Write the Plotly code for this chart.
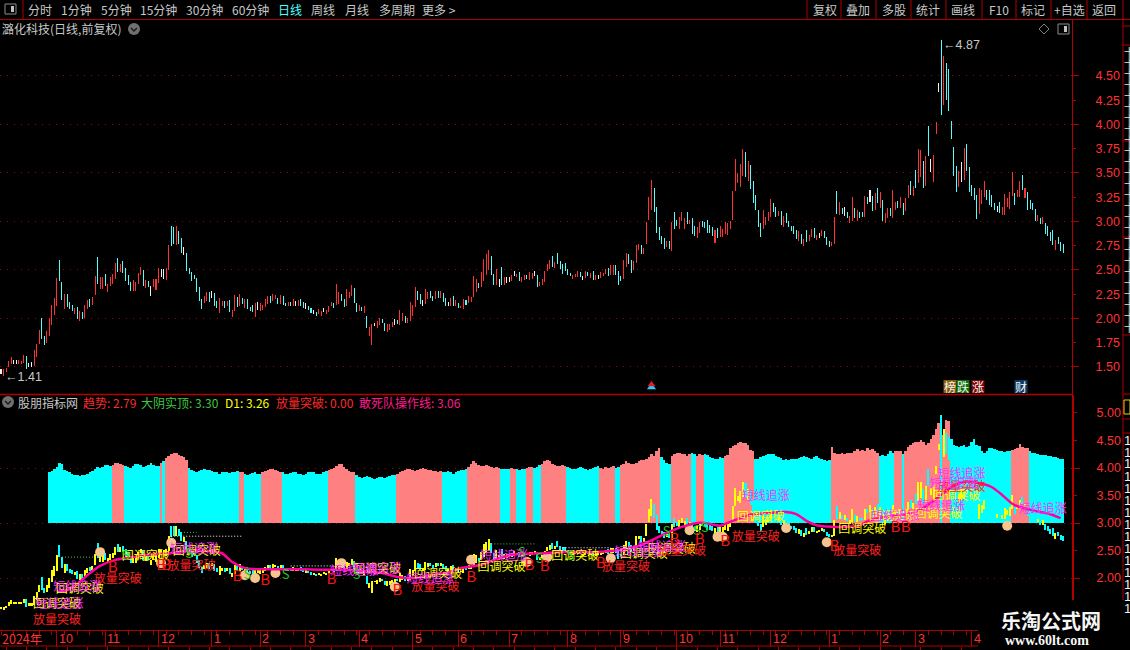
import plotly.graph_objects as go

# Candle ranges, ten bars per row
bar_lows = [
    1.43, 1.41, 1.45, 1.50, 1.53, 1.53, 1.53, 1.53, 1.53, 1.54,
    1.48, 1.50, 1.50, 1.51, 1.60, 1.74, 1.79, 1.73, 1.75, 1.82,
    1.93, 2.04, 2.13, 2.39, 2.19, 2.10, 2.12, 2.10, 2.08, 2.05,
    1.99, 1.97, 1.99, 2.00, 2.10, 2.12, 2.14, 2.24, 2.36, 2.30,
    2.30, 2.33, 2.27, 2.33, 2.36, 2.41, 2.48, 2.48, 2.47, 2.39,
    2.35, 2.28, 2.28, 2.28, 2.36, 2.45, 2.33, 2.31, 2.32, 2.23,
    2.32, 2.29, 2.37, 2.43, 2.41, 2.40, 2.50, 2.75, 2.77, 2.76,
    2.77, 2.67, 2.65, 2.49, 2.46, 2.39, 2.41, 2.27, 2.18, 2.10,
    2.16, 2.18, 2.17, 2.21, 2.13, 2.11, 2.06, 2.13, 2.11, 2.13,
    2.07, 2.02, 2.08, 2.12, 2.13, 2.15, 2.11, 2.10, 2.08, 2.07,
    2.02, 2.09, 2.08, 2.09, 2.12, 2.15, 2.16, 2.18, 2.20, 2.15,
    2.15, 2.14, 2.13, 2.13, 2.13, 2.13, 2.13, 2.13, 2.13, 2.11,
    2.10, 2.09, 2.06, 2.05, 2.03, 2.05, 2.03, 2.07, 2.05, 2.07,
    2.13, 2.11, 2.14, 2.15, 2.18, 2.12, 2.13, 2.21, 2.23, 2.16,
    2.07, 2.08, 2.08, 2.06, 1.90, 1.82, 1.73, 1.92, 1.90, 1.93,
    1.95, 1.87, 1.86, 1.88, 1.91, 1.93, 1.94, 1.93, 1.97, 1.95,
    1.95, 1.97, 2.03, 2.12, 2.19, 2.15, 2.13, 2.15, 2.20, 2.21,
    2.18, 2.20, 2.21, 2.21, 2.17, 2.13, 2.13, 2.13, 2.13, 2.13,
    2.11, 2.11, 2.10, 2.14, 2.16, 2.17, 2.22, 2.27, 2.31, 2.32,
    2.39, 2.45, 2.50, 2.45, 2.34, 2.35, 2.32, 2.35, 2.34, 2.37,
    2.38, 2.39, 2.44, 2.43, 2.39, 2.38, 2.40, 2.41, 2.40, 2.41,
    2.44, 2.32, 2.33, 2.35, 2.38, 2.49, 2.51, 2.53, 2.52, 2.56,
    2.51, 2.46, 2.49, 2.45, 2.44, 2.41, 2.43, 2.43, 2.43, 2.40,
    2.42, 2.44, 2.42, 2.40, 2.40, 2.41, 2.42, 2.44, 2.46, 2.44,
    2.45, 2.45, 2.45, 2.35, 2.39, 2.41, 2.53, 2.56, 2.47, 2.50,
    2.57, 2.71, 2.66, 2.66, 2.77, 3.02, 3.12, 3.10, 2.88, 2.81,
    2.77, 2.72, 2.74, 2.72, 2.70, 2.92, 2.95, 2.92, 3.00, 2.92,
    2.97, 2.97, 2.87, 2.85, 2.83, 2.88, 2.94, 2.93, 2.88, 2.88,
    2.85, 2.78, 2.83, 2.84, 2.84, 2.87, 2.86, 2.92, 3.02, 3.31,
    3.40, 3.36, 3.47, 3.46, 3.42, 3.33, 3.19, 3.12, 2.94, 2.84,
    2.92, 2.96, 3.01, 3.05, 3.10, 3.05, 3.06, 2.96, 2.94, 2.98,
    2.94, 2.90, 2.87, 2.82, 2.80, 2.77, 2.75, 2.79, 2.80, 2.84,
    2.83, 2.81, 2.83, 2.85, 2.83, 2.76, 2.74, 2.75, 2.77, 3.08,
    3.07, 3.08, 3.06, 3.04, 2.98, 3.01, 3.04, 3.01, 3.04, 3.05,
    3.05, 3.18, 3.20, 3.11, 3.12, 3.19, 3.14, 3.00, 2.98, 3.04,
    3.06, 3.04, 3.12, 3.14, 3.14, 3.07, 3.11, 3.24, 3.27, 3.26,
    3.35, 3.40, 3.46, 3.34, 3.37, 3.68, 3.51, 3.41, 3.90, 4.33,
    4.10, 4.20, 4.25, 4.14, 3.85, 3.47, 3.30, 3.36, 3.41, 3.43,
    3.52, 3.30, 3.26, 3.22, 3.03, 3.08, 3.18, 3.25, 3.22, 3.17,
    3.15, 3.12, 3.10, 3.09, 3.07, 3.07, 3.15, 3.13, 3.26, 3.17,
    3.25, 3.25, 3.32, 3.24, 3.12, 3.13, 3.12, 3.01, 3.01, 2.97,
    2.97, 2.87, 2.85, 2.80, 2.76, 2.71, 2.77, 2.70, 2.68,
]
bar_highs = [
    1.48, 1.48, 1.49, 1.56, 1.60, 1.57, 1.57, 1.57, 1.56, 1.62,
    1.61, 1.54, 1.55, 1.68, 1.74, 1.88, 2.01, 1.82, 1.87, 2.00,
    2.14, 2.21, 2.42, 2.60, 2.38, 2.25, 2.25, 2.17, 2.14, 2.11,
    2.12, 2.08, 2.07, 2.14, 2.19, 2.20, 2.22, 2.44, 2.63, 2.43,
    2.43, 2.46, 2.36, 2.43, 2.46, 2.57, 2.62, 2.56, 2.59, 2.52,
    2.45, 2.38, 2.40, 2.38, 2.47, 2.53, 2.50, 2.40, 2.39, 2.33,
    2.41, 2.41, 2.52, 2.51, 2.51, 2.52, 2.76, 2.95, 2.94, 2.95,
    2.90, 2.83, 2.74, 2.68, 2.52, 2.48, 2.45, 2.42, 2.32, 2.20,
    2.23, 2.27, 2.27, 2.28, 2.26, 2.18, 2.21, 2.18, 2.18, 2.18,
    2.19, 2.09, 2.24, 2.22, 2.25, 2.21, 2.20, 2.20, 2.12, 2.14,
    2.16, 2.17, 2.16, 2.14, 2.20, 2.23, 2.23, 2.25, 2.24, 2.21,
    2.24, 2.23, 2.16, 2.17, 2.17, 2.20, 2.18, 2.19, 2.20, 2.17,
    2.16, 2.13, 2.11, 2.09, 2.07, 2.10, 2.08, 2.11, 2.09, 2.13,
    2.17, 2.16, 2.36, 2.27, 2.25, 2.20, 2.30, 2.27, 2.34, 2.31,
    2.16, 2.14, 2.12, 2.13, 2.03, 1.91, 1.94, 1.95, 1.97, 2.00,
    1.99, 1.95, 1.94, 1.94, 1.96, 1.99, 1.98, 2.09, 2.06, 2.03,
    2.00, 2.17, 2.14, 2.32, 2.28, 2.25, 2.19, 2.30, 2.27, 2.28,
    2.23, 2.28, 2.28, 2.28, 2.26, 2.21, 2.17, 2.21, 2.23, 2.19,
    2.16, 2.13, 2.20, 2.19, 2.23, 2.22, 2.44, 2.41, 2.37, 2.48,
    2.61, 2.66, 2.71, 2.64, 2.46, 2.51, 2.41, 2.53, 2.43, 2.43,
    2.43, 2.45, 2.49, 2.46, 2.48, 2.43, 2.45, 2.45, 2.48, 2.47,
    2.49, 2.45, 2.38, 2.41, 2.49, 2.56, 2.60, 2.64, 2.58, 2.68,
    2.59, 2.56, 2.57, 2.51, 2.47, 2.45, 2.46, 2.49, 2.48, 2.44,
    2.49, 2.48, 2.47, 2.49, 2.45, 2.45, 2.48, 2.47, 2.51, 2.52,
    2.55, 2.55, 2.55, 2.49, 2.44, 2.60, 2.67, 2.66, 2.60, 2.59,
    2.76, 2.77, 2.76, 2.73, 2.99, 3.25, 3.43, 3.34, 3.15, 2.94,
    2.85, 2.83, 2.80, 2.80, 2.99, 3.10, 3.02, 3.05, 3.10, 3.04,
    3.10, 3.02, 3.04, 2.95, 2.94, 2.99, 3.00, 2.99, 3.02, 2.96,
    2.94, 2.91, 2.93, 2.95, 2.92, 2.99, 2.98, 3.01, 3.31, 3.64,
    3.50, 3.59, 3.75, 3.72, 3.62, 3.58, 3.42, 3.27, 3.12, 2.98,
    3.12, 3.05, 3.10, 3.23, 3.19, 3.15, 3.11, 3.11, 3.06, 3.09,
    3.01, 2.95, 2.95, 2.91, 2.90, 2.87, 2.82, 2.91, 2.86, 2.92,
    2.93, 2.86, 2.88, 2.91, 2.90, 2.84, 2.80, 2.79, 3.05, 3.31,
    3.20, 3.14, 3.15, 3.10, 3.06, 3.25, 3.14, 3.12, 3.10, 3.10,
    3.26, 3.25, 3.32, 3.26, 3.29, 3.34, 3.30, 3.22, 3.09, 3.14,
    3.14, 3.32, 3.20, 3.21, 3.25, 3.19, 3.24, 3.38, 3.42, 3.37,
    3.53, 3.75, 3.74, 3.62, 3.67, 3.98, 3.64, 3.69, 4.03, 4.43,
    4.87, 4.71, 4.63, 4.57, 4.04, 3.77, 3.57, 3.52, 3.61, 3.76,
    3.80, 3.56, 3.38, 3.35, 3.27, 3.34, 3.32, 3.42, 3.32, 3.32,
    3.27, 3.19, 3.16, 3.20, 3.15, 3.28, 3.24, 3.30, 3.51, 3.29,
    3.32, 3.42, 3.48, 3.34, 3.30, 3.22, 3.19, 3.13, 3.07, 3.04,
    3.05, 2.98, 2.95, 2.89, 2.91, 2.81, 2.84, 2.79, 2.77,
]
# r = up, c = down, w = doji
bar_kinds = (
    "wrrrrwwrrr" "cwwrrrccrr" "rrrccrcccr" "crcrrcrrcr" "rcrrrrcrcc"
    "ccrrrrcrcw" "rrrwwrrccr" "ccwccccccc" "rrcwccrrcr" "crrcrcrccc"
    "rwrrrrcrrc" "rccrcrwrcc" "wccwcrrwrr" "rcrrccrrrc" "crcrcrrwrr"
    "ccrrrwcrrc" "rrrrccwrrc" "crcrccwrcr" "crrcrrrrcr" "rrrccrwcrw"
    "wrwrcrrcrr" "wcrrrrrcrc" "cccccrrrcw" "rcrcrwrrrc" "rrcccrrccr"
    "rrcrrrrccc" "ccrcrccrrr" "crccrrcccc" "crcrrrrrrr" "rrrcrccccc"
    "rrrrccrcrc" "ccccrcrcrr" "crwrcccrrc" "rcwcrrcrcc" "rcwcrcrcrr"
    "crrcrcrrcr" "crrcrcwrrw" "crcccccrwr" "cccccrrrcc" "ccwcrrrrrc"
    "rrcrccccrc" "rcccc" "rccc"
)

# Histogram tops, split at each colour change (cyan, pink, cyan, pink ...)
hist_segments = [
    [3.93, 3.95, 3.98, 4.02, 4.09, 4.07, 3.97, 3.95, 3.93, 3.90, 3.88, 3.87, 3.86, 3.87, 3.88, 3.90, 3.93, 3.95, 3.98, 4.02, 4.00, 4.02, 4.05, 4.05, 4.03],
    [4.06, 4.09, 4.10, 4.08, 4.05],
    [4.03, 4.01, 4.00, 4.03, 4.07, 4.08, 4.05, 4.02, 4.03, 4.06, 4.09, 4.05, 4.03, 4.04],
    [4.10],
    [4.12],
    [4.18, 4.22, 4.26, 4.28, 4.27, 4.24, 4.22, 4.20, 4.14],
    [4.00, 3.96, 3.94, 3.93, 3.95, 3.97, 3.98, 3.97, 3.96, 3.94, 3.93, 3.92, 3.90, 3.92, 3.93, 3.92, 3.91, 3.92, 3.93, 3.94],
    [3.93, 3.92],
    [3.90, 3.88, 3.90, 3.91, 3.92, 3.90, 3.89],
    [3.92, 3.95, 3.97, 3.99, 3.98, 3.96, 3.94, 3.93],
    [3.92, 3.90, 3.90, 3.91, 3.93, 3.92, 3.90, 3.89, 3.88, 3.90, 3.92, 3.93, 3.92, 3.90, 3.89, 3.90, 3.92, 3.94],
    [3.96, 3.98, 4.00, 4.04, 4.08, 4.07, 4.02, 3.98, 3.95, 3.93, 3.92],
    [3.87, 3.84, 3.82, 3.83, 3.85, 3.84, 3.82, 3.80, 3.82, 3.84, 3.83, 3.82, 3.84, 3.86, 3.88, 3.87],
    [3.90, 3.92, 3.94, 3.96, 3.98, 3.99, 3.97, 3.95, 3.96, 3.98, 4.00, 3.99, 3.97, 3.96, 3.95, 3.94, 3.93, 3.94],
    [3.92, 3.93, 3.94, 3.92, 3.90, 3.92, 3.94, 3.96, 3.97, 3.98],
    [4.02, 4.08, 4.12, 4.10, 4.06, 4.04, 4.03, 4.05, 4.03, 4.02, 4.00, 4.01, 4.00],
    [3.99, 3.98, 3.98, 3.99],
    [4.00, 3.99],
    [3.98, 3.97, 3.98, 3.99],
    [4.00, 4.02, 4.01],
    [4.00, 4.02, 4.05],
    [4.08, 4.12, 4.15, 4.12, 4.08, 4.06, 4.04, 4.03, 4.05, 4.03],
    [4.01, 4.00, 3.99, 3.98, 4.00, 4.01, 4.00, 3.98, 3.97, 3.98, 4.00, 4.02, 4.03],
    [4.00, 3.99, 4.01, 4.00, 4.02, 4.03],
    [4.00, 4.02],
    [4.05, 4.08, 4.12, 4.10, 4.07, 4.08, 4.10, 4.12, 4.14, 4.15, 4.17, 4.20, 4.26, 4.22, 4.30, 4.37],
    [4.20, 4.15, 4.10, 4.08],
    [4.22, 4.25, 4.27, 4.28, 4.25, 4.26, 4.22, 4.25],
    [4.28, 4.26],
    [4.22, 4.25, 4.24],
    [4.26, 4.24, 4.20, 4.18, 4.16, 4.17, 4.20, 4.18],
    [4.22, 4.24, 4.36, 4.40, 4.42, 4.45, 4.47, 4.45, 4.46, 4.42, 4.33, 4.30],
    [4.16, 4.17, 4.20, 4.22, 4.24, 4.25, 4.26, 4.25, 4.22, 4.20, 4.18, 4.15, 4.17, 4.15, 4.16, 4.17, 4.16, 4.18, 4.20, 4.22, 4.20, 4.18, 4.16, 4.20, 4.21, 4.18, 4.17, 4.14, 4.12, 4.15],
    [4.38, 4.27, 4.25, 4.25, 4.27, 4.25, 4.28, 4.28, 4.27, 4.30, 4.34, 4.31, 4.32, 4.30, 4.36, 4.33, 4.35, 4.30, 4.28],
    [4.22, 4.24, 4.22, 4.26, 4.30, 4.28],
    [4.31, 4.30, 4.30],
    [4.25],
    [4.30, 4.38, 4.42, 4.45, 4.47, 4.48, 4.50, 4.47, 4.42, 4.46, 4.52, 4.60, 4.70, 4.82],
    [4.97],
    [4.60, 4.87, 4.85],
    [4.52, 4.42, 4.40, 4.38, 4.40, 4.42, 4.38, 4.40, 4.48, 4.52, 4.42, 4.40, 4.30, 4.27, 4.30, 4.36, 4.36, 4.35, 4.32, 4.30, 4.30, 4.29, 4.31, 4.30],
    [4.33, 4.34, 4.36, 4.43, 4.38, 4.36, 4.37],
    [4.30, 4.28, 4.27, 4.26, 4.24, 4.23, 4.24, 4.22, 4.21, 4.20, 4.20, 4.18, 4.17, 4.16],
]
hist_base = 3.0

# 敢死队操作线
trend_bars = [22, 26, 30, 35, 39, 45, 52, 57, 67, 75, 81, 87, 91, 96, 100, 108, 118, 126, 136, 141, 150, 156, 163, 169,
              175, 181, 189, 193, 199, 205, 213, 220, 232, 240, 246, 252, 258, 262, 268, 274, 277, 283, 288, 295, 301,
              309, 313, 317, 321, 327, 333, 338, 342, 348, 356, 362, 368, 374, 379, 384, 390, 394, 398, 401, 407, 413, 417]
trend_values = [1.75, 1.78, 1.89, 2.09, 2.22, 2.33, 2.38, 2.42, 2.45, 2.51, 2.49, 2.45, 2.29, 2.18, 2.16, 2.16, 2.16, 2.15, 2.15, 2.13, 2.09, 2.02, 2.00, 2.05,
                2.09, 2.18, 2.24, 2.31, 2.40, 2.44, 2.45, 2.47, 2.47, 2.49, 2.53, 2.60, 2.73, 2.82, 2.93, 3.00, 3.00, 2.95, 3.04, 3.15, 3.18,
                3.20, 3.16, 3.04, 2.96, 2.93, 2.93, 2.96, 3.05, 3.11, 3.15, 3.25, 3.44, 3.65, 3.75, 3.73, 3.65, 3.51, 3.35, 3.29, 3.22, 3.16, 3.09]

# Signal labels on the lower panel
breakout_bars = [22, 46, 75, 171, 246, 268, 297, 337, 378]
breakout_prices = [1.22, 1.96, 2.20, 1.82, 2.18, 2.47, 2.73, 2.47, 3.64]
pullback_bars = [22, 31, 57, 77, 148, 172, 197, 226, 253, 264, 299, 339, 351, 369, 376]
pullback_prices = [1.51, 1.78, 2.38, 2.47, 2.15, 2.05, 2.18, 2.38, 2.42, 2.51, 3.09, 2.87, 3.11, 3.15, 3.47]
chase_bars = [23, 30, 76, 139, 148, 169, 198, 251, 260, 301, 352, 370, 375, 378, 410]
chase_prices = [1.51, 1.82, 2.51, 2.11, 2.15, 1.96, 2.38, 2.45, 2.55, 3.47, 3.11, 3.29, 3.69, 3.87, 3.24]
buy_bars = [44, 63, 65, 93, 104, 130, 156, 185, 208, 214, 236, 265, 275, 285, 328, 352, 356]
buy_prices = [2.18, 2.22, 2.22, 2.02, 1.95, 1.96, 1.76, 2.00, 2.22, 2.20, 2.25, 2.69, 2.69, 2.65, 2.56, 2.91, 2.91]
sell_bars = [49, 74, 97, 112, 140, 205, 212, 224, 262, 274, 277]
sell_prices = [2.38, 2.42, 2.05, 2.05, 2.05, 2.45, 2.33, 2.38, 2.82, 2.84, 2.89]
hand_bars = [39, 63, 67, 96, 100, 108, 134, 155, 185, 207, 215, 240, 271, 282, 284, 309, 325, 396]
hand_prices = [2.47, 2.27, 2.64, 2.05, 2.00, 2.09, 2.27, 1.84, 2.33, 2.29, 2.38, 2.36, 2.87, 2.75, 2.75, 2.91, 2.65, 2.95]

# Short dotted support lines on the lower panel
white_dot_bars = [67, 95, None, 114, 131, None, 221, 240]
white_dot_prices = [2.76, 2.76, None, 2.22, 2.22, None, 2.55, 2.55]
green_dot_bars = [24, 37, None, 72, 77, None, 193, 210]
green_dot_prices = [2.38, 2.38, None, 2.83, 2.83, None, 2.62, 2.62]

# Axis ticks and month labels
price_ticks = [4.50, 4.25, 4.00, 3.75, 3.50, 3.25, 3.00, 2.75, 2.50, 2.25, 2.00, 1.75, 1.50]
price_grid = [4.5, 4.0, 3.5, 3.0, 2.5, 2.0, 1.5]
lower_ticks = [5.00, 4.50, 4.00, 3.50, 3.00, 2.50, 2.00]
lower_grid = [4.0, 3.0, 2.0]
month_bars = [22, 41, 62, 83, 102, 120, 141, 162, 180, 200, 223, 244, 266, 283, 303, 326, 346, 360, 382]
month_labels = ['10', '11', '12', '1', '2', '3', '4', '5', '6', '7', '8', '9', '10', '11', '12', '1', '2', '3', '4']

# Toolbar and header texts
left_tools = ['分时', '1分钟', '5分钟', '15分钟', '30分钟', '60分钟', '日线', '周线', '月线', '多周期', '更多 >']
left_tool_x = [40, 76, 116, 158, 204, 250, 290, 323, 357, 397, 439]
right_tools = ['复权', '叠加', '多股', '统计', '画线', 'F10', '标记', '+自选', '返回']
right_tool_x = [825, 858, 894, 928, 963, 999, 1033, 1069, 1104]
tool_seps = [807, 841, 876, 911, 946, 982, 1016, 1051, 1087, 1123]
legend_texts = ['趋势: 2.79', '大阴实顶: 3.30', 'D1: 3.26', '放量突破: 0.00', '敢死队操作线: 3.06']
legend_x = [83, 141, 225, 276, 359]
legend_colors = ['#ff2a2a', '#3fc83f', '#ffff00', '#ff2a2a', '#ff1a8c']
badge_texts = ['榜', '跌', '涨', '财']
badge_x = [950, 963, 978, 1021]
badge_colors = ['#8a5a08', '#0b6e0b', '#7a0606', '#0c3a66']

BLACK = '#000000'
FRAME = '#b00000'
TICK_RED = '#ff3232'
GREY = '#c8c8c8'
CJK = 'Noto Sans CJK SC'
WIDTH, HEIGHT = 1130, 650


def px(x):
    return x / WIDTH


def py(y):
    return 1 - y / HEIGHT


annotations = []
shapes = []


def note(text, x, y, color=GREY, size=12, anchor='center', family=CJK):
    # left anchored annotations carry a small inner padding
    nudge = -2 if anchor == 'left' else 0
    annotations.append(dict(text=text, x=px(x + nudge), y=py(y), xref='paper', yref='paper', showarrow=False,
                            xanchor=anchor, yanchor='middle', font=dict(family=family, size=size, color=color)))


def rule(x0, y0, x1, y1, color=FRAME, width=1):
    shapes.append(dict(type='line', xref='paper', yref='paper', x0=px(x0), y0=py(y0), x1=px(x1), y1=py(y1),
                       line=dict(color=color, width=width), layer='above'))


def box(x0, y0, x1, y1, fill, line=None):
    shapes.append(dict(type='rect', xref='paper', yref='paper', x0=px(x0), y0=py(y0), x1=px(x1), y1=py(y1),
                       fillcolor=fill, line=dict(color=line or fill, width=1 if line else 0), layer='above'))


def chevron_badge(cx, cy):
    shapes.append(dict(type='circle', xref='paper', yref='paper', x0=px(cx - 6), y0=py(cy - 6), x1=px(cx + 6), y1=py(cy + 6),
                       fillcolor='#707070', line=dict(width=0), layer='above'))
    path = f'M {px(cx - 3)} {py(cy - 1)} L {px(cx)} {py(cy + 2)} L {px(cx + 3)} {py(cy - 1)}'
    shapes.append(dict(type='path', xref='paper', yref='paper', path=path, line=dict(color='#1c1c1c', width=1.5), layer='above'))


def toggle_icon(x0, y0):
    box(x0, y0, x0 + 11, y0 + 10, BLACK, '#8c8c8c')
    box(x0 + 6, y0 + 2, x0 + 9, y0 + 8, '#c0c0c0')


bars = list(range(len(bar_highs)))
bar_spans = [h - l for h, l in zip(bar_highs, bar_lows)]
# the tiny alpha makes plotly round bar edges instead of widening them to 2px
top_colors = [{'r': 'rgba(255,50,50,0.999)', 'c': 'rgba(84,252,252,0.999)', 'w': 'rgba(240,240,240,0.999)'}[k] for k in bar_kinds]
low_colors = [{'r': 'rgba(255,255,0,0.999)', 'c': 'rgba(0,255,255,0.999)', 'w': 'rgba(255,255,0,0.999)'}[k] for k in bar_kinds]

hist_tops = [v for seg in hist_segments for v in seg]
hist_colors = [('#ff8080' if n % 2 else '#00ffff') for n, seg in enumerate(hist_segments) for _ in seg]
hist_bars = bars[-len(hist_tops):]

fig = go.Figure()

# Upper panel candles
fig.add_trace(go.Bar(x=bars, y=bar_spans, base=bar_lows, width=0.4, marker=dict(color=top_colors, line=dict(width=0)),
                     xaxis='x', yaxis='y', hoverinfo='skip'))

# Lower panel histogram, then candles on top of it
fig.add_trace(go.Bar(x=hist_bars, y=[t - hist_base for t in hist_tops], base=hist_base, width=1.0,
                     marker=dict(color=hist_colors, line=dict(width=0)), xaxis='x', yaxis='y2', hoverinfo='skip'))
fig.add_trace(go.Bar(x=bars, y=bar_spans, base=bar_lows, width=0.79, marker=dict(color=low_colors, line=dict(width=0)),
                     xaxis='x', yaxis='y2', hoverinfo='skip'))

# Dotted support lines
fig.add_trace(go.Scatter(x=white_dot_bars, y=white_dot_prices, mode='lines', xaxis='x', yaxis='y2', hoverinfo='skip',
                         line=dict(color='#ffffff', width=1, dash='1px,2px')))
fig.add_trace(go.Scatter(x=green_dot_bars, y=green_dot_prices, mode='lines', xaxis='x', yaxis='y2', hoverinfo='skip',
                         line=dict(color='#40d040', width=1, dash='1px,2px')))

# Hand icons sit under the thick line
fig.add_trace(go.Scatter(x=hand_bars, y=hand_prices, mode='markers', xaxis='x', yaxis='y2', hoverinfo='skip',
                         marker=dict(color='#f6c48c', size=10, line=dict(width=0))))

fig.add_trace(go.Scatter(x=trend_bars, y=trend_values, mode='lines', xaxis='x', yaxis='y2', hoverinfo='skip',
                         line=dict(color='#ff00a0', width=2.5, shape='spline', smoothing=0.6)))

for label_bars, label_prices, text, color, size in [
    (pullback_bars, pullback_prices, '回调突破', '#ffff00', 12),
    (breakout_bars, breakout_prices, '放量突破', '#ff2020', 12),
    (chase_bars, chase_prices, '短线追涨', '#ff30ff', 12),
    (sell_bars, sell_prices, 'S', '#20c820', 13),
    (buy_bars, buy_prices, 'B', '#ff1010', 15),
]:
    fig.add_trace(go.Scatter(x=label_bars, y=label_prices, mode='text', text=[text] * len(label_bars), xaxis='x', yaxis='y2',
                             hoverinfo='skip', cliponaxis=False,
                             textfont=dict(family=CJK, size=size, color=color)))

# Keeps the second time axis alive for its small lower ticks
fig.add_trace(go.Scatter(x=[0], y=[None], xaxis='x2', yaxis='y2', hoverinfo='skip', mode='lines'))

# High and low flags on the price panel
high_bar = bar_highs.index(max(bar_highs))
low_bar = bar_lows.index(min(bar_lows))
annotations.append(dict(text=f'←{max(bar_highs):.2f}', x=high_bar, y=max(bar_highs) - 0.05, xref='x', yref='y', showarrow=False,
                        xanchor='left', xshift=0, yanchor='middle', font=dict(family='Liberation Sans', size=12.5, color=GREY)))
annotations.append(dict(text=f'←{min(bar_lows):.2f}', x=low_bar, y=min(bar_lows) - 0.01, xref='x', yref='y', showarrow=False,
                        xanchor='left', xshift=-1, yanchor='middle', font=dict(family='Liberation Sans', size=12.5, color=GREY)))

# Month labels sit to the right of their tick
annotations.append(dict(text='2024年', x=px(0), y=py(638.5), xref='paper', yref='paper', showarrow=False, xanchor='left',
                        yanchor='middle', font=dict(family=CJK, size=12.5, color=TICK_RED)))
for b, lab in zip(month_bars, month_labels):
    annotations.append(dict(text=lab, x=b, y=py(638.5), xref='x', yref='paper', showarrow=False, xanchor='left', xshift=0,
                            yanchor='middle', font=dict(family='Liberation Sans', size=12.5, color=TICK_RED)))

# Toolbar
rule(0, 19.5, 1130, 19.5, width=1)
rule(23, 0, 23, 19.5)
for x in tool_seps:
    rule(x, 0, x, 19.5)
toggle_icon(5, 4)
for text, x in zip(left_tools, left_tool_x):
    note(text, x, 9.5, color='#4fffff' if text == '日线' else GREY)
for text, x in zip(right_tools, right_tool_x):
    note(text, x, 9.5)

# Panel headings
note('潞化科技(日线,前复权)', 2, 29, anchor='left')
chevron_badge(134, 29)
note('股朋指标网', 18, 402.5, anchor='left')
chevron_badge(8, 402)
for text, x, color in zip(legend_texts, legend_x, legend_colors):
    note(text, x, 402.5, color=color, anchor='left')
path = f'M {px(1039)} {py(29)} L {px(1044)} {py(24)} L {px(1049)} {py(29)} L {px(1044)} {py(34)} Z'
shapes.append(dict(type='path', xref='paper', yref='paper', path=path, line=dict(color='#808080', width=1), layer='above'))
toggle_icon(1058, 24)

# Event badges above the panel divider
for text, x, color in zip(badge_texts, badge_x, badge_colors):
    box(x - 6.5, 380, x + 6.5, 393, color)
    note(text, x, 386.5, color='#f4f4f4', size=12)
fig.add_trace(go.Scatter(x=[256], y=[1.29], mode='markers', xaxis='x', yaxis='y', hoverinfo='skip',
                         marker=dict(symbol='triangle-up', size=8, color='#30c8ff', line=dict(width=0))))
fig.add_trace(go.Scatter(x=[256], y=[1.32], mode='markers', xaxis='x', yaxis='y', hoverinfo='skip',
                         marker=dict(symbol='triangle-up', size=7, color='#e02020', line=dict(width=0))))

# Panel divider and the lower time strip
rule(0, 394.5, 1072, 394.5, width=1.5)
rule(0, 630.5, 1072, 630.5)
rule(0, 646, 978, 646)

# Cropped side column at the right edge
rule(1123, 20, 1123, 650)
for y in [26, 45, 141, 237, 335, 394, 419, 433]:
    rule(1123, y, 1130, y)
for y in range(52, 335, 11):
    note('卡', 1124, y, color='#e0e0e0', size=11, anchor='left')
for y in range(440, 610, 12):
    note('1', 1124, y, color='#f0f0f0', size=13, anchor='left', family='Liberation Sans')
box(1124, 400, 1130, 414, BLACK, '#d8d800')

# Watermark block
box(978, 600, 1130, 650, BLACK)
note('<b>乐淘公式网</b>', 1051, 620, color='#f6f6f6', size=20)
note('<b>www.60lt.com</b>', 1047, 640, color='#f6f6f6', size=14, family='Liberation Serif')

axis_common = dict(side='right', ticks='outside', ticklen=3, tickcolor=FRAME, showline=True, linecolor=FRAME,
                   showgrid=False, zeroline=False, tickformat='.2f', ticklabelstandoff=17,
                   tickfont=dict(family='Liberation Sans', size=12.5, color=TICK_RED))

fig.update_layout(
    width=WIDTH, height=HEIGHT, margin=dict(l=0, r=0, t=0, b=0), autosize=False,
    paper_bgcolor=BLACK, plot_bgcolor=BLACK, showlegend=False, barmode='overlay', bargap=0,
    annotations=annotations, shapes=shapes,
    xaxis=dict(domain=[0, 1072 / WIDTH], range=[-0.394, 421.5], anchor='y2', tickmode='array', tickvals=month_bars,
               ticks='outside', ticklen=16, tickcolor=FRAME, showticklabels=False, showline=True, linecolor=FRAME,
               showgrid=False, zeroline=False,
               minor=dict(ticks='outside', ticklen=4, tickcolor=FRAME, tick0=0, dtick=5, showgrid=False)),
    xaxis2=dict(domain=[0, 1072 / WIDTH], range=[-0.394, 421.5], overlaying='x', anchor='free', position=py(646), side='bottom',
                tickmode='linear', tick0=2, dtick=8, ticks='outside', ticklen=4, tickcolor=FRAME, showticklabels=False,
                showline=False, showgrid=False, zeroline=False),
    yaxis=dict(domain=[py(395), py(20)], range=[1.211, 5.077], anchor='x', tickmode='array', tickvals=price_ticks, linewidth=1,
               minor=dict(tickmode='array', tickvals=price_grid, ticks='outside', ticklen=6, tickcolor=FRAME,
                          showgrid=True, gridcolor='#8c0c0c', griddash='1px,6px', gridwidth=1),
               **axis_common),
    yaxis2=dict(domain=[py(630), py(395)], range=[1.055, 5.327], anchor='x', tickmode='array', tickvals=lower_ticks, linewidth=2,
                minor=dict(tickmode='array', tickvals=lower_grid, ticks='outside', ticklen=6, tickcolor=FRAME,
                           showgrid=True, gridcolor='#8c0c0c', griddash='1px,6px', gridwidth=1),
                **axis_common),
)

fig.write_html("out.html", config=dict(displayModeBar=False),
               post_script="document.body.style.margin='0';document.body.style.background='#000';")
